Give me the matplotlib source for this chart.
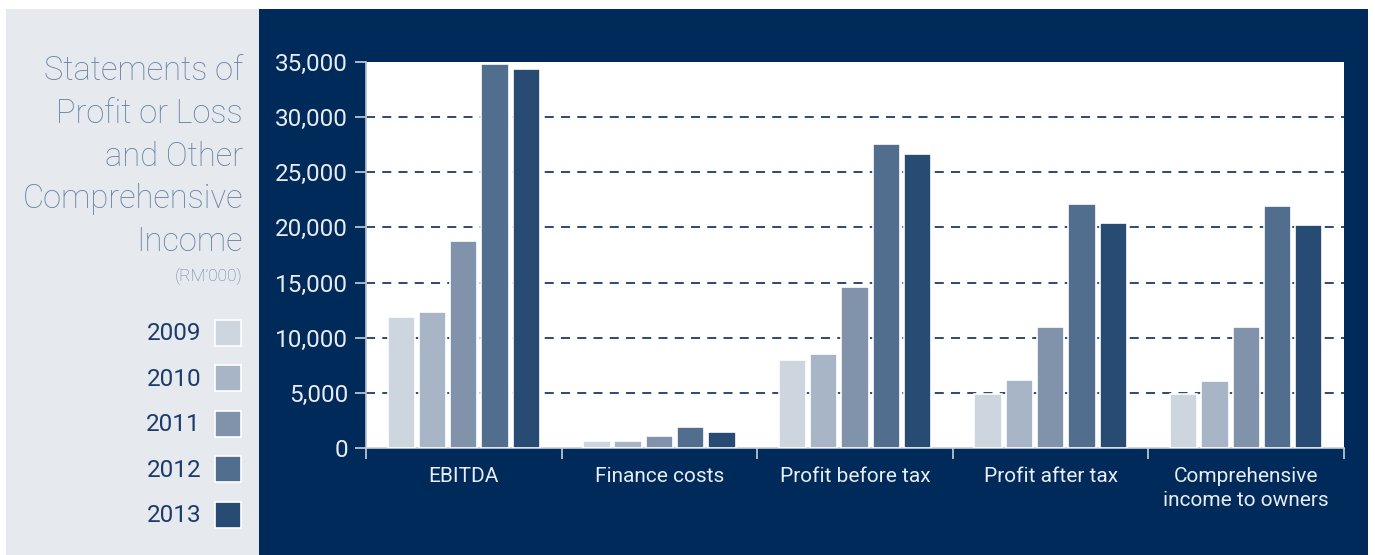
import numpy as np
import matplotlib
matplotlib.use("Agg")
import matplotlib.pyplot as plt
from matplotlib.patches import Rectangle

# data (RM'000)
categories = ["EBITDA", "Finance costs", "Profit before tax", "Profit after tax",
              "Comprehensive\nincome to owners"]
years = ["2009", "2010", "2011", "2012", "2013"]
v2009 = [11850, 620, 7950, 4870, 4870]
v2010 = [12300, 620, 8500, 6160, 6100]
v2011 = [18800, 1060, 14620, 10970, 10970]
v2012 = [34810, 1875, 27530, 22090, 21940]
v2013 = [34330, 1420, 26650, 20430, 20220]
yticks = [0, 5000, 10000, 15000, 20000, 25000, 30000, 35000]

colors = ["#cdd5de", "#a7b5c6", "#8193ab", "#526e8e", "#284b74"]
navy = "#002a5a"
panel_gray = "#e6e9ee"
title_col = "#6582a3"

plt.rcParams['font.family'] = ['Roboto', 'DejaVu Sans']
W, H = 1375, 555
fig = plt.figure(figsize=(W / 100, H / 100), dpi=100)
fig.patch.set_facecolor("white")


def fx(px):
    return px / W


def fy(py):
    return 1 - py / H


# background panels
fig.patches.append(Rectangle((fx(6), 0), fx(253), fy(9), transform=fig.transFigure,
                             facecolor=panel_gray, edgecolor="none", zorder=-10))
fig.patches.append(Rectangle((fx(259), 0), fx(1109), fy(9), transform=fig.transFigure,
                             facecolor=navy, edgecolor="none", zorder=-10))

# title block
title_lines = ["Statements of", "Profit or Loss", "and Other", "Comprehensive", "Income"]
for i, t in enumerate(title_lines):
    fig.text(fx(243), fy(71 + i * 42.8), t, ha="right", va="center",
             fontsize=23.5, color=title_col, fontweight="light")
fig.text(fx(243), fy(276), "(RM\u2019000)", ha="right", va="center",
         fontsize=12.5, color=title_col, fontweight="light")

# legend
for i, (yr, c) in enumerate(zip(years, colors)):
    cy = 333 + i * 45.4
    fig.patches.append(Rectangle((fx(215), fy(cy + 13)), fx(26), 26 / H,
                                 transform=fig.transFigure, facecolor=c,
                                 edgecolor="white", linewidth=1.2, zorder=2))
    fig.text(fx(201), fy(cy + 1), yr, ha="right", va="center", fontsize=17.5,
             color="#1c3b6a")

ax = fig.add_axes([fx(366), fy(448), fx(1344 - 366), (448 - 62) / H])
ax.set_zorder(5)
ax.set_facecolor("white")

series = [v2009, v2010, v2011, v2012, v2013]
x = np.arange(len(categories))
for i, (vals, c) in enumerate(zip(series, colors)):
    ax.bar(x + (i - 2) * 0.16, vals, width=0.14, color=c, edgecolor="white",
           linewidth=1.2, zorder=3)

ax.set_xlim(-0.5, 4.5)
ax.set_ylim(0, 35000)
ax.set_yticks(yticks)
ax.set_yticklabels([f"{v:,}" for v in yticks])
for v in yticks[1:-1]:
    ax.axhline(v, color="#1d3c66", linewidth=1.3, linestyle=(0, (5, 4)), zorder=1)

ax.set_xticks(x)
ax.set_xticklabels(categories, linespacing=1.3)
ax.set_xticks(np.arange(-0.5, 5, 1), minor=True)
ax.tick_params(axis="x", which="major", length=0, pad=14, labelsize=15,
               labelcolor="#e8ecf2")
ax.tick_params(axis="x", which="minor", length=8, width=1.2, color="#c7d0da",
               direction="out")
ax.tick_params(axis="y", length=8, width=1.2, color="#c7d0da", pad=5,
               labelsize=17.5, labelcolor="#e8ecf2")

for s in ["top", "right"]:
    ax.spines[s].set_visible(False)
ax.spines["left"].set_color("#b8c3cf")
ax.spines["bottom"].set_color("#c7d0da")
ax.spines["left"].set_linewidth(1.2)
ax.spines["bottom"].set_linewidth(1.2)

fig.savefig("out.png", dpi=100)
